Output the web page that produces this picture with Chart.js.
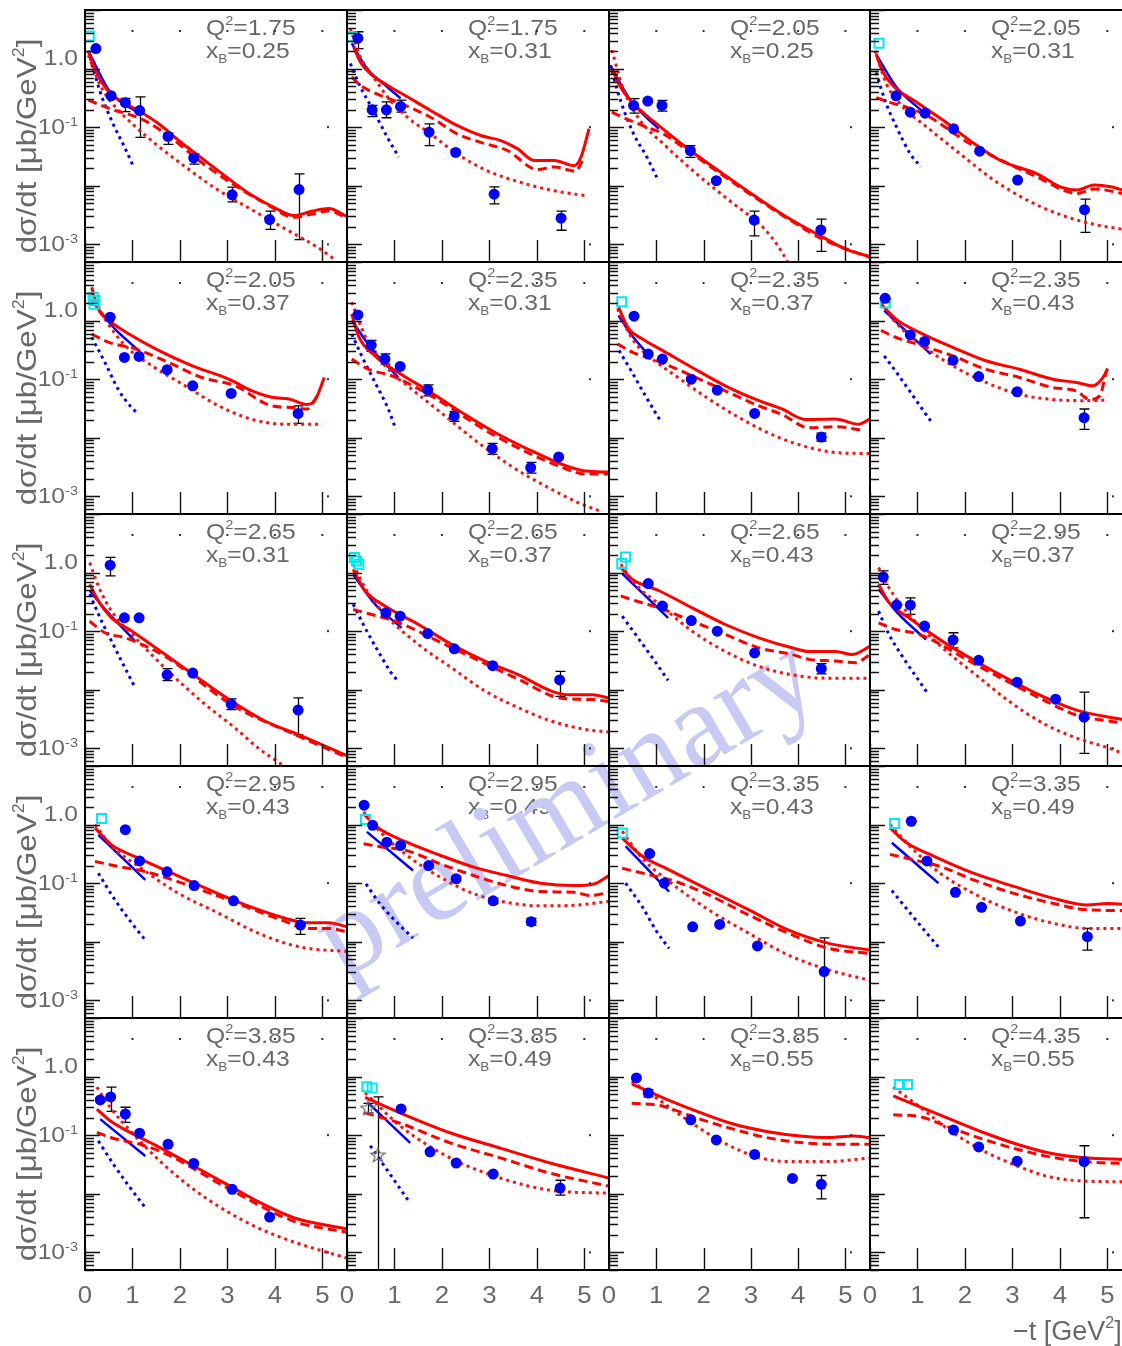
<!DOCTYPE html>
<html>
<head>
<meta charset="utf-8">
<script src="https://cdn.jsdelivr.net/npm/chart.js@4.4.1/dist/chart.umd.min.js"></script>
<style>
html, body { margin: 0; padding: 0; background: #fff; overflow: hidden; }
#wrap { position: relative; width: 1122px; height: 1346px; overflow: hidden; background: #fff; }
#wrap canvas { position: absolute; }
</style>
</head>
<body>
<div id="wrap"></div>
<script>
// panel labels, row by row
const q2 = ['1.75','1.75','2.05','2.05', '2.05','2.35','2.35','2.35', '2.65','2.65','2.65','2.95', '2.95','2.95','3.35','3.35', '3.85','3.85','3.85','4.35'];
const xB = ['0.25','0.31','0.25','0.31', '0.37','0.31','0.37','0.43', '0.31','0.37','0.43','0.37', '0.43','0.49','0.43','0.49', '0.43','0.49','0.55','0.55'];

const xTickVals = [0, 1, 2, 3, 4, 5];
const yLabelVals = [1, 0.1, 0.001];
const yLabelExp = [null, '-1', '-3'];

// measured points: [-t, dsigma/dt, low, high]
const points = [
  [[0.23,2.2],[0.55,0.344],[0.85,0.262,0.184,0.31],[1.15,0.192,0.067,0.33],[1.75,0.0695,0.051,0.079],[2.29,0.0299,0.0235,0.035],[3.1,0.007,0.0053,0.0095],[3.89,0.00265,0.0018,0.0037],[4.51,0.0086,0.0012,0.016]],
  [[0.23,3.3,2.2,4.25],[0.53,0.198,0.152,0.235],[0.83,0.198,0.145,0.27],[1.13,0.226,0.18,0.29],[1.73,0.082,0.0485,0.114],[2.29,0.037],[3.1,0.0072,0.0049,0.0096],[4.51,0.0028,0.00174,0.0037]],
  [[0.52,0.235,0.174,0.306],[0.82,0.279],[1.12,0.235,0.188,0.286],[1.72,0.04,0.0306,0.0485],[2.27,0.0122],[3.07,0.0026,0.0014,0.0037],[4.48,0.00176,0.00076,0.0027]],
  [[0.55,0.344],[0.85,0.18],[1.16,0.173],[1.76,0.094],[2.31,0.039],[3.11,0.0125],[4.52,0.0039,0.0016,0.0059]],
  [[0.53,1.14],[0.83,0.235],[1.14,0.245],[1.73,0.145],[2.27,0.077],[3.08,0.057],[4.49,0.026,0.0176,0.0349]],
  [[0.23,1.25],[0.51,0.38,0.3,0.46],[0.8,0.22,0.18,0.27],[1.12,0.165],[1.7,0.066,0.052,0.08],[2.26,0.0235,0.019,0.028],[3.06,0.0065,0.0052,0.008],[3.87,0.0031,0.0025,0.0038],[4.46,0.0047]],
  [[0.53,1.19],[0.83,0.268],[1.13,0.22],[1.74,0.1],[2.29,0.065],[3.08,0.026],[4.49,0.0103,0.0088,0.012]],
  [[0.32,2.4],[0.85,0.57],[1.15,0.44],[1.75,0.21],[2.29,0.111],[3.1,0.061],[4.51,0.022,0.0139,0.031]],
  [[0.53,1.34,0.88,1.82],[0.83,0.169],[1.14,0.169],[1.73,0.018,0.0143,0.023],[2.27,0.0193],[3.08,0.0057,0.0046,0.007],[4.49,0.0045,0.0017,0.0073]],
  [[0.82,0.206],[1.12,0.18],[1.7,0.091],[2.26,0.05],[3.07,0.0258],[4.48,0.0147,0.0077,0.0206]],
  [[0.83,0.65],[1.13,0.268],[1.74,0.152],[2.29,0.1],[3.08,0.0425],[4.49,0.023,0.0187,0.028]],
  [[0.28,0.84,0.63,1.07],[0.56,0.279],[0.85,0.279,0.193,0.37],[1.15,0.122],[1.75,0.071,0.052,0.094],[2.29,0.0318],[3.1,0.0135],[3.91,0.0069],[4.51,0.0034,0.00082,0.0091]],
  [[0.85,0.82],[1.15,0.24],[1.73,0.156],[2.3,0.091],[3.13,0.05],[4.54,0.0193,0.0134,0.025]],
  [[0.36,2.14],[0.54,0.97],[0.84,0.5],[1.13,0.44],[1.72,0.2],[2.3,0.119],[3.08,0.05,0.045,0.055],[3.88,0.022,0.019,0.025]],
  [[0.86,0.32],[1.17,0.1],[1.77,0.018],[2.34,0.0198],[3.14,0.0085],[4.55,0.0031,0.0002,0.0117]],
  [[0.87,1.14],[1.2,0.24],[1.8,0.07],[2.35,0.0388],[3.17,0.0226],[4.58,0.0122,0.0072,0.0169]],
  [[0.32,0.4],[0.54,0.45,0.255,0.66],[0.85,0.23,0.165,0.3],[1.15,0.108],[1.75,0.07],[2.29,0.033],[3.1,0.0119],[3.89,0.004]],
  [[1.14,0.28],[1.75,0.052],[2.3,0.0335],[3.08,0.0217],[4.49,0.0125,0.0095,0.017]],
  [[0.58,0.95],[0.83,0.525,0.45,0.6],[1.73,0.183],[2.27,0.083],[3.08,0.047],[3.88,0.0183],[4.49,0.0145,0.0082,0.0205]],
  [[1.76,0.123],[2.29,0.063],[3.1,0.036],[4.51,0.0354,0.0039,0.066]]
];

// open cyan squares
const cyan = [
  [[0.09,3.6]], [[0.1,3.5]], [], [[0.19,2.7]],
  [[0.17,2.5],[0.21,2.2],[0.19,1.9]], [], [[0.27,2.1]], [[0.32,2.0]],
  [], [[0.155,1.81],[0.2,1.58],[0.25,1.39]], [[0.35,1.85],[0.27,1.43]], [],
  [[0.35,1.27]], [[0.39,1.22]], [[0.28,0.72]], [[0.52,1.04]],
  [], [[0.42,0.67],[0.53,0.64]], [], [[0.62,0.73],[0.79,0.73]]
];

// open grey stars: [-t, value, low, high]
const stars = [
  [], [], [], [],
  [], [], [], [],
  [], [], [], [],
  [], [], [], [],
  [], [[0.44,0.29,0.24,0.35],[0.65,0.046,0.0002,0.45]], [], []
];

const redSolid = [
  [[0.07,2.0],[0.25,0.82],[0.53,0.38],[0.85,0.255],[1.16,0.185],[1.58,0.11],[2.0,0.057],[2.5,0.028],[3.0,0.0137],[3.49,0.0071],[3.98,0.0043],[4.4,0.0031],[4.79,0.0037],[5.14,0.0041],[5.52,0.003]],
  [[0.14,2.35],[0.28,1.3],[0.49,0.82],[0.85,0.52],[1.27,0.33],[1.76,0.193],[2.32,0.107],[2.82,0.072],[3.24,0.059],[3.59,0.043],[3.94,0.027],[4.37,0.027],[4.79,0.022],[4.93,0.031],[5.1,0.094]],
  [[0.06,1.0],[0.24,0.49],[0.52,0.25],[1.01,0.114],[1.72,0.04],[2.42,0.0158],[3.13,0.0063],[3.83,0.0027],[4.54,0.0013],[5.03,0.00081],[5.52,0.00062]],
  [[0.13,1.75],[0.28,0.86],[0.56,0.45],[0.99,0.265],[1.55,0.13],[2.11,0.059],[2.75,0.027],[3.52,0.016],[4.01,0.0096],[4.37,0.0085],[4.72,0.0103],[5.07,0.0096],[5.52,0.0075]],
  [[0.14,3.7],[0.28,1.58],[0.56,0.93],[0.99,0.55],[1.55,0.31],[2.25,0.17],[3.03,0.1],[3.52,0.063],[3.94,0.049],[4.3,0.046],[4.68,0.037],[4.86,0.046],[5.04,0.107]],
  [[0.1,1.3],[0.24,0.55],[0.59,0.25],[1.08,0.13],[1.72,0.063],[2.42,0.027],[3.13,0.0122],[3.83,0.0063],[4.54,0.0035],[5.03,0.0027],[5.52,0.0026]],
  [[0.2,1.69],[0.42,0.72],[0.7,0.49],[1.13,0.31],[1.76,0.158],[2.46,0.077],[3.17,0.043],[3.66,0.031],[4.15,0.0206],[4.79,0.021],[5.28,0.017],[5.52,0.021]],
  [[0.23,1.93],[0.54,1.07],[1.04,0.63],[1.74,0.35],[2.44,0.206],[3.15,0.148],[3.85,0.1],[4.35,0.088],[4.7,0.077],[4.91,0.107],[5.01,0.152]],
  [[0.1,0.63],[0.28,0.33],[0.56,0.169],[0.99,0.1],[1.69,0.04],[2.39,0.0158],[3.1,0.0063],[3.8,0.0029],[4.51,0.0017],[5.52,0.00075]],
  [[0.13,1.14],[0.38,0.49],[0.8,0.268],[1.51,0.13],[2.21,0.059],[2.92,0.0306],[3.62,0.018],[4.32,0.0094],[4.68,0.0082],[5.17,0.0082],[5.52,0.0072]],
  [[0.25,1.22],[0.49,0.77],[1.06,0.49],[1.76,0.25],[2.46,0.13],[3.17,0.077],[3.87,0.052],[4.23,0.045],[4.79,0.045],[5.14,0.04],[5.52,0.055]],
  [[0.18,0.63],[0.4,0.31],[0.82,0.169],[1.53,0.067],[2.23,0.0306],[2.94,0.0148],[3.64,0.0077],[4.35,0.0045],[5.32,0.0031],[5.52,0.0029]],
  [[0.21,0.88],[0.56,0.45],[1.13,0.268],[1.83,0.148],[2.54,0.082],[3.38,0.0425],[4.23,0.025],[4.65,0.0212],[5.14,0.0212],[5.52,0.018]],
  [[0.38,1.45],[0.63,0.91],[1.26,0.5],[1.96,0.3],[2.67,0.188],[3.37,0.135],[4.08,0.1],[4.78,0.091],[5.2,0.097],[5.52,0.135]],
  [[0.28,0.59],[0.7,0.29],[1.27,0.169],[2.11,0.077],[2.96,0.035],[3.8,0.0158],[4.65,0.0094],[5.52,0.0072]],
  [[0.42,0.88],[0.77,0.49],[1.34,0.29],[2.18,0.148],[3.03,0.088],[3.87,0.055],[4.58,0.0425],[5.0,0.045],[5.52,0.0425]],
  [[0.25,0.279],[0.53,0.176],[1.02,0.104],[1.58,0.0615],[2.29,0.0298],[2.99,0.0145],[3.7,0.007],[4.4,0.0039],[5.52,0.0025]],
  [[0.38,0.44],[1.12,0.24],[2.17,0.11],[3.23,0.06],[4.28,0.0335],[5.52,0.0186]],
  [[0.48,0.75],[1.22,0.41],[1.92,0.245],[2.63,0.155],[3.33,0.116],[4.04,0.097],[4.67,0.091],[5.16,0.097],[5.52,0.091]],
  [[0.49,0.47],[0.99,0.32],[1.69,0.188],[2.39,0.111],[3.1,0.07],[3.8,0.049],[4.51,0.041],[5.32,0.0388],[5.52,0.0385]]
];

const redDashed = [
  [[0.07,0.29],[0.32,0.24],[0.6,0.197],[0.88,0.17],[1.23,0.133],[1.73,0.074],[2.43,0.026],[3.13,0.0105],[3.84,0.0048],[4.4,0.0029],[4.79,0.0033],[5.14,0.0037],[5.52,0.0028]],
  [[0.1,0.72],[0.28,0.52],[0.63,0.37],[1.06,0.27],[1.76,0.148],[2.32,0.077],[2.82,0.055],[3.38,0.04],[4.01,0.019],[4.37,0.021],[4.82,0.0177],[4.96,0.027]],
  [[0.06,0.18],[0.45,0.13],[0.8,0.1],[1.15,0.077],[1.72,0.037],[2.42,0.0148],[3.13,0.006],[3.83,0.0026],[4.54,0.0012],[5.52,0.0006]],
  [[0.13,0.32],[0.42,0.265],[0.77,0.22],[1.2,0.158],[2.11,0.052],[3.52,0.0141],[4.37,0.0074],[4.72,0.0088],[5.52,0.0068]],
  [[0.14,0.59],[0.49,0.43],[1.06,0.33],[1.76,0.193],[2.46,0.107],[3.17,0.077],[3.94,0.035],[4.37,0.033],[4.68,0.031],[4.93,0.059]],
  [[0.1,0.22],[0.45,0.148],[0.94,0.114],[1.72,0.055],[3.13,0.0107],[4.54,0.0031],[5.03,0.0024],[5.52,0.0024]],
  [[0.18,0.4],[0.49,0.29],[0.92,0.22],[1.76,0.114],[2.46,0.063],[3.17,0.035],[3.66,0.025],[4.23,0.0148],[4.79,0.0155],[5.35,0.0135]],
  [[0.23,0.68],[0.54,0.52],[1.11,0.37],[1.74,0.25],[2.44,0.148],[3.15,0.107],[3.85,0.072],[4.35,0.063],[4.63,0.045],[4.84,0.052],[4.98,0.139]],
  [[0.1,0.148],[0.42,0.094],[0.85,0.077],[1.69,0.037],[3.1,0.0055],[4.51,0.0016],[5.52,0.0007]],
  [[0.13,0.235],[0.52,0.193],[1.01,0.148],[2.21,0.052],[3.62,0.015],[4.5,0.0072],[5.17,0.0068],[5.52,0.0063]],
  [[0.25,0.4],[0.56,0.33],[1.06,0.25],[1.76,0.148],[2.46,0.088],[3.17,0.052],[3.87,0.04],[4.23,0.033],[4.79,0.031],[5.21,0.029],[5.52,0.04]],
  [[0.18,0.139],[0.54,0.107],[1.04,0.088],[2.23,0.0268],[3.64,0.0068],[4.35,0.0037],[5.32,0.0027],[5.52,0.0025]],
  [[0.21,0.235],[0.7,0.193],[1.27,0.158],[2.54,0.072],[4.23,0.022],[4.65,0.0169],[5.14,0.0169],[5.52,0.0148]],
  [[0.35,0.47],[0.77,0.41],[1.26,0.36],[1.96,0.214],[2.67,0.135],[3.37,0.091],[4.08,0.072],[4.78,0.07],[5.13,0.0615],[5.52,0.07]],
  [[0.28,0.18],[0.85,0.139],[1.41,0.107],[2.11,0.063],[2.96,0.0285],[3.8,0.0139],[4.65,0.0077],[5.52,0.0063]],
  [[0.42,0.31],[0.92,0.25],[1.48,0.193],[2.18,0.114],[3.03,0.067],[3.87,0.045],[4.58,0.035],[5.52,0.034]],
  [[0.25,0.111],[0.67,0.085],[1.16,0.07],[1.73,0.047],[2.99,0.0127],[4.4,0.0034],[5.52,0.0022]],
  [[0.38,0.24],[1.12,0.16],[2.17,0.074],[3.23,0.041],[4.28,0.0224],[5.52,0.0135]],
  [[0.48,0.35],[1.08,0.32],[1.92,0.188],[2.63,0.127],[3.33,0.091],[4.04,0.075],[4.74,0.07],[5.52,0.07]],
  [[0.49,0.223],[1.06,0.206],[1.69,0.135],[2.39,0.085],[3.1,0.0575],[3.8,0.0425],[4.51,0.0354],[5.52,0.0325]]
];

const redDotted = [
  [[0.07,1.7],[0.32,0.52],[0.6,0.24],[1.02,0.11],[1.51,0.05],[2.15,0.02],[2.78,0.0087],[3.49,0.004],[4.19,0.0019],[4.89,0.0009],[5.25,0.00056]],
  [[0.07,4.85],[0.28,1.58],[0.56,0.72],[0.85,0.33],[1.27,0.148],[1.76,0.077],[2.32,0.035],[2.96,0.018],[3.66,0.0114],[4.37,0.0082],[5.07,0.0067]],
  [[0.06,2.06],[0.31,0.43],[0.66,0.13],[1.15,0.052],[1.86,0.0158],[2.56,0.0055],[3.27,0.0019],[3.55,0.001],[3.78,0.0005]],
  [[0.11,2.0],[0.35,0.54],[0.7,0.22],[1.2,0.1],[1.9,0.035],[2.61,0.0125],[3.31,0.0057],[4.01,0.0032],[4.72,0.0022],[5.52,0.0017]],
  [[0.14,2.87],[0.42,1.07],[0.85,0.37],[1.41,0.17],[2.11,0.077],[2.82,0.035],[3.52,0.0206],[4.23,0.017],[5.0,0.017]],
  [[0.1,2.06],[0.38,0.55],[0.8,0.17],[1.37,0.067],[2.07,0.0235],[2.77,0.0082],[3.48,0.0032],[4.18,0.0015],[4.89,0.00077],[5.38,0.00054]],
  [[0.18,1.58],[0.49,0.49],[0.92,0.22],[1.41,0.114],[2.11,0.046],[2.82,0.0206],[3.52,0.0107],[4.23,0.0068],[4.93,0.0055],[5.52,0.0054]],
  [[0.23,2.06],[0.54,0.93],[1.11,0.37],[1.74,0.17],[2.44,0.088],[3.15,0.055],[3.85,0.045],[4.56,0.043],[5.01,0.044]],
  [[0.1,1.48],[0.28,0.59],[0.56,0.22],[1.06,0.077],[1.76,0.0206],[2.46,0.0063],[3.17,0.0022],[3.66,0.001],[4.19,0.0005]],
  [[0.13,1.39],[0.38,0.55],[0.8,0.193],[1.51,0.059],[2.21,0.0235],[2.92,0.0094],[3.62,0.0049],[4.32,0.0029],[5.03,0.0021],[5.52,0.0019]],
  [[0.25,1.39],[0.56,0.63],[1.06,0.29],[1.76,0.1],[2.46,0.045],[3.17,0.025],[3.87,0.018],[4.58,0.0158],[5.52,0.0158]],
  [[0.18,1.22],[0.4,0.55],[0.82,0.193],[1.53,0.052],[2.23,0.018],[2.94,0.0063],[3.64,0.0027],[4.35,0.0015],[5.05,0.001],[5.32,0.00082]],
  [[0.21,1.0],[0.56,0.43],[1.13,0.193],[1.97,0.067],[2.82,0.0306],[3.66,0.0139],[4.51,0.0082],[5.52,0.0068]],
  [[0.35,1.65],[0.7,0.75],[1.26,0.3],[1.96,0.127],[2.67,0.066],[3.37,0.047],[4.08,0.041],[4.78,0.042],[5.52,0.049]],
  [[0.28,0.77],[0.7,0.268],[1.27,0.107],[2.11,0.035],[2.96,0.0139],[3.8,0.0059],[4.65,0.0033],[5.52,0.0022]],
  [[0.42,1.0],[0.92,0.37],[1.48,0.148],[2.18,0.067],[3.03,0.0327],[3.87,0.0206],[4.58,0.0169],[5.52,0.0169]],
  [[0.25,0.66],[0.53,0.3],[1.02,0.104],[1.58,0.036],[2.29,0.0119],[2.99,0.005],[3.7,0.0025],[4.4,0.0015],[5.52,0.0008]],
  [[0.38,0.53],[1.12,0.144],[2.17,0.041],[3.23,0.0186],[4.28,0.0115],[5.52,0.0102]],
  [[0.48,0.83],[1.08,0.39],[1.78,0.155],[2.49,0.07],[3.19,0.041],[3.89,0.0354],[4.6,0.0354],[5.52,0.041]],
  [[0.49,0.66],[1.06,0.3],[1.69,0.119],[2.39,0.054],[3.1,0.0298],[3.8,0.0193],[4.51,0.0165],[5.52,0.016]]
];

const blueSolid = [
  [[0.07,2.0],[0.53,0.4],[1.1,0.18]],
  [[0.1,2.7],[0.42,1.0],[0.77,0.55],[1.13,0.31]],
  [[0.03,1.14],[0.45,0.29],[1.05,0.094]],
  [[0.13,1.75],[0.56,0.48],[1.09,0.19]],
  [[0.14,2.2],[0.63,0.72],[1.16,0.295]],
  [[0.1,1.0],[0.52,0.33],[1.08,0.107]],
  [[0.2,1.22],[0.49,0.55],[0.88,0.235]],
  [[0.3,1.48],[0.75,0.67],[1.28,0.268]],
  [[0.1,0.49],[0.49,0.206],[1.06,0.067]],
  [[0.13,0.93],[0.59,0.29],[1.15,0.114]],
  [[0.28,0.96],[0.77,0.4],[1.25,0.169]],
  [[0.18,0.52],[0.61,0.193],[1.18,0.072]],
  [[0.28,0.67],[1.27,0.114]],
  [[0.42,0.75],[1.39,0.165]],
  [[0.35,0.43],[1.27,0.072]],
  [[0.46,0.49],[1.44,0.1]],
  [[0.32,0.188],[1.27,0.044]],
  [[0.44,0.36],[1.33,0.074]],
  [],
  []
];

const blueDotted = [
  [[0.07,2.0],[0.32,0.4],[0.6,0.11],[0.81,0.05],[1.02,0.0215]],
  [[0.07,1.22],[0.28,0.49],[0.56,0.19],[0.85,0.067],[1.09,0.031]],
  [[0.03,1.14],[0.24,0.29],[0.52,0.077],[0.8,0.031],[1.01,0.0139]],
  [[0.13,0.86],[0.32,0.28],[0.56,0.1],[0.85,0.035],[1.07,0.021]],
  [[0.14,0.52],[0.42,0.193],[0.7,0.067],[0.95,0.035],[1.11,0.026]],
  [[0.1,0.59],[0.31,0.25],[0.59,0.088],[0.87,0.031],[1.03,0.0139]],
  [[0.21,0.31],[0.49,0.13],[0.77,0.052],[1.09,0.0193]],
  [[0.3,0.25],[0.61,0.114],[0.96,0.045],[1.28,0.0193]],
  [[0.1,0.43],[0.35,0.148],[0.63,0.052],[0.88,0.0206],[1.06,0.0107]],
  [[0.13,0.29],[0.38,0.114],[0.66,0.045],[0.91,0.0206],[1.08,0.0139]],
  [[0.28,0.18],[0.56,0.088],[0.92,0.035],[1.25,0.0145]],
  [[0.18,0.22],[0.4,0.088],[0.75,0.0306],[1.04,0.0139],[1.21,0.0088]],
  [[0.28,0.148],[0.63,0.052],[0.99,0.0206],[1.27,0.0107]],
  [[0.4,0.097],[0.7,0.044],[1.05,0.0214],[1.39,0.0116]],
  [[0.35,0.1],[0.7,0.04],[0.99,0.0158],[1.27,0.0077]],
  [[0.46,0.075],[0.85,0.0306],[1.2,0.0139],[1.44,0.0082]],
  [[0.28,0.08],[0.6,0.0318],[0.95,0.0127],[1.27,0.0058]],
  [[0.49,0.066],[1.33,0.0069]],
  [],
  []
];

const T_MIN = 0, T_MAX = 5.52;
const Y_MIN = 5e-4, Y_MAX = 10;

// page layout of the 5 x 4 grid
const colLeft = [85, 347, 609, 870];
const colW = [262, 262, 261, 262];
const rowTop = [10, 262, 514, 766, 1018];
const rowH = 252;

const FONT = '"Liberation Sans", Arial, sans-serif';
const TXT = '#686868';
const SX = 1.12;
const WM = { x: 343, y: 980, angle: -30.6, size: 120, text: 'preliminary', color: '#c9caf3' };

function drawRich(ctx, parts, x, y, align, sx) {
  sx = sx || SX;
  let total = 0;
  for (const p of parts) { ctx.font = p[1] + 'px ' + FONT; total += ctx.measureText(p[0]).width * sx; }
  let cx = align === 'right' ? x - total : align === 'center' ? x - total / 2 : x;
  for (const p of parts) {
    ctx.font = p[1] + 'px ' + FONT;
    const w = ctx.measureText(p[0]).width * sx;
    ctx.save();
    ctx.translate(cx, y + p[2]);
    ctx.scale(sx, 1);
    ctx.textAlign = 'left';
    ctx.textBaseline = 'alphabetic';
    ctx.fillText(p[0], 0, 0);
    ctx.restore();
    cx += w;
  }
}

function starImage() {
  const c = document.createElement('canvas');
  c.width = 18; c.height = 18;
  const g = c.getContext('2d');
  g.strokeStyle = '#6e6e6e';
  g.lineWidth = 1.2;
  g.beginPath();
  for (let k = 0; k < 10; k++) {
    const r = k % 2 ? 3.2 : 7.5;
    const a = -Math.PI / 2 + k * Math.PI / 5;
    const px = 9 + r * Math.cos(a), py = 9.5 + r * Math.sin(a);
    if (k === 0) g.moveTo(px, py); else g.lineTo(px, py);
  }
  g.closePath();
  g.stroke();
  return c;
}
const starImg = starImage();

const decor = {
  id: 'decor',
  beforeDatasetsDraw(chart, args, o) {
    const ctx = chart.ctx, a = chart.chartArea;
    const xs = chart.scales.x, ys = chart.scales.y;
    ctx.save();
    ctx.beginPath();
    ctx.rect(a.left, a.top, a.right - a.left, a.bottom - a.top);
    ctx.clip();

    ctx.fillStyle = TXT;
    drawRich(ctx, [['Q', 22, 0], ['2', 13, -10], ['=' + q2[o.i], 22, 0]], a.left + 121, a.top + 25, 'left');
    drawRich(ctx, [['x', 22, 0], ['B', 12, 5], ['=' + xB[o.i], 22, 0]], a.left + 121, a.top + 48, 'left');

    // watermark, placed in page coordinates
    ctx.save();
    ctx.translate(WM.x - o.left, WM.y - o.top);
    ctx.rotate(WM.angle * Math.PI / 180);
    ctx.font = WM.size + 'px "Liberation Serif", "DejaVu Serif", serif';
    ctx.fillStyle = WM.color;
    ctx.textBaseline = 'alphabetic';
    ctx.fillText(WM.text, 0, 0);
    ctx.restore();

    // error bars
    ctx.strokeStyle = '#000';
    ctx.lineWidth = 1.3;
    const bars = points[o.i].concat(stars[o.i]);
    for (const p of bars) {
      if (p.length < 4) continue;
      const x = Math.round(xs.getPixelForValue(p[0])) + 0.5;
      const y1 = ys.getPixelForValue(p[3]), y2 = ys.getPixelForValue(p[2]);
      ctx.beginPath();
      ctx.moveTo(x, y1); ctx.lineTo(x, y2);
      ctx.moveTo(x - 5, y1); ctx.lineTo(x + 5, y1);
      ctx.moveTo(x - 5, y2); ctx.lineTo(x + 5, y2);
      ctx.stroke();
    }
    ctx.restore();
  },
  afterDraw(chart, args, o) {
    const ctx = chart.ctx, a = chart.chartArea;
    const xs = chart.scales.x, ys = chart.scales.y;
    ctx.save();
    ctx.strokeStyle = '#111';
    ctx.lineWidth = 1.4;
    ctx.beginPath();
    for (let e = -4; e <= 1; e++) {
      for (let m = 1; m <= 9; m++) {
        const v = m * Math.pow(10, e);
        if (v < Y_MIN || v > Y_MAX) continue;
        const y = Math.round(ys.getPixelForValue(v)) + 0.5;
        const len = m === 1 ? 15 : 9;
        ctx.moveTo(a.left, y); ctx.lineTo(a.left + len, y);
      }
    }
    for (const t of xTickVals) {
      const x = Math.round(xs.getPixelForValue(t)) + 0.5;
      ctx.moveTo(x, a.bottom); ctx.lineTo(x, a.bottom - 22);
    }
    ctx.stroke();

    ctx.fillStyle = '#333';
    for (const t of xTickVals.slice(1)) ctx.fillRect(xs.getPixelForValue(t) - 1, a.top + 20, 2, 2);
    for (const v of [0.1, 0.001]) ctx.fillRect(a.right - 20, ys.getPixelForValue(v) - 1, 2, 2);

    ctx.strokeStyle = '#000';
    ctx.lineWidth = 2;
    ctx.strokeRect(a.left, a.top, a.right - a.left, a.bottom - a.top);

    ctx.fillStyle = TXT;
    if (o.col === 0) {
      yLabelVals.forEach((v, k) => {
        const y = ys.getPixelForValue(v);
        if (yLabelExp[k] === null) drawRich(ctx, [['1.0', 22, 0]], a.left - 7, y - 4, 'right');
        else drawRich(ctx, [['10', 22, 0], [yLabelExp[k], 13, -8]], a.left - 7, y + 7, 'right');
      });
      ctx.save();
      ctx.translate(36, a.top + 136);
      ctx.rotate(-Math.PI / 2);
      drawRich(ctx, [['d\u03c3/dt [\u03bcb/GeV', 28, 0], ['2', 16, -12], [']', 28, 0]], 0, 0, 'center');
      ctx.restore();
    }
    if (o.row === 4) {
      for (const t of xTickVals) drawRich(ctx, [[String(t), 23, 0]], xs.getPixelForValue(t), a.bottom + 33, 'center');
      if (o.col === 3) drawRich(ctx, [['\u2212t [GeV', 27, 0], ['2', 16, -12], [']', 27, 0]], 1013 - o.left, 1340 - o.top, 'left', 1.0);
    }
    ctx.restore();
  }
};

function curve(data, color, width, dash, order) {
  return {
    data: data.map(p => ({ x: p[0], y: p[1] })),
    showLine: true, borderColor: color, borderWidth: width, borderDash: dash,
    borderCapStyle: 'butt', pointRadius: 0, fill: false,
    cubicInterpolationMode: 'monotone', clip: 0, order: order
  };
}

const wrap = document.getElementById('wrap');

function makePanel(i) {
  const row = Math.floor(i / 4), col = i % 4;
  // the bottom row gets a little room on the left so the "0" label is not cut
  const padL = col === 0 ? 85 : (row === 4 ? 14 : 0);
  const padT = row === 0 ? 10 : 0;
  const padB = row === 4 ? 76 : 0;
  const left = colLeft[col] - padL, top = rowTop[row] - padT;
  const w = colW[col] + padL, h = rowH + padT + padB;
  const cv = document.createElement('canvas');
  cv.width = w; cv.height = h;
  cv.style.left = left + 'px'; cv.style.top = top + 'px';
  cv.style.width = w + 'px'; cv.style.height = h + 'px';
  wrap.appendChild(cv);

  const datasets = [
    { data: points[i].map(p => ({ x: p[0], y: p[1] })), showLine: false, pointRadius: 5.5,
      pointBackgroundColor: '#0000ff', pointBorderWidth: 0, clip: 0, order: 0 },
    { data: cyan[i].map(p => ({ x: p[0], y: p[1] })), showLine: false, pointStyle: 'rect', pointRadius: 6.4,
      pointBorderColor: '#00e8f0', pointBackgroundColor: 'rgba(0,0,0,0)', pointBorderWidth: 2, clip: 0, order: 1 },
    { data: stars[i].map(p => ({ x: p[0], y: p[1] })), showLine: false, pointStyle: starImg, pointRadius: 8,
      clip: 0, order: 2 },
    curve(redSolid[i], '#ff0000', 3, [], 3),
    curve(redDashed[i], '#ff0000', 3, [9, 5], 4),
    curve(redDotted[i], '#ff1010', 3, [3, 4], 5),
    curve(blueSolid[i], '#0000ff', 2.5, [], 6),
    curve(blueDotted[i], '#0000ff', 3, [3, 4], 7)
  ];

  new Chart(cv, {
    type: 'line',
    data: { datasets: datasets },
    options: {
      responsive: false,
      animation: false,
      devicePixelRatio: 1,
      events: [],
      layout: { padding: { left: padL, top: padT, right: 0, bottom: padB }, autoPadding: false },
      plugins: {
        legend: { display: false },
        tooltip: { enabled: false },
        decor: { i: i, row: row, col: col, left: left, top: top }
      },
      scales: {
        x: { type: 'linear', min: T_MIN, max: T_MAX, display: false },
        y: { type: 'logarithmic', min: Y_MIN, max: Y_MAX, display: false }
      }
    },
    plugins: [decor]
  });
}

for (let i = 0; i < 20; i++) makePanel(i);
</script>
</body>
</html>
